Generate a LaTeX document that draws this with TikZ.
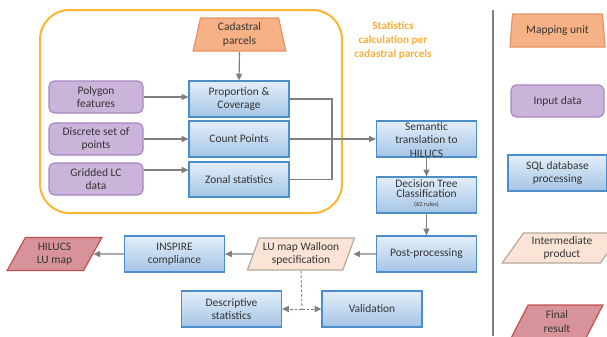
\documentclass[tikz,border=0pt]{standalone}
\usepackage{fontspec}
\setmainfont{Carlito}
\usetikzlibrary{arrows.meta,shapes.geometric,calc}

\definecolor{txt}{HTML}{353535}
\definecolor{blueb}{HTML}{4C8DCA}
\definecolor{bluetop}{HTML}{E3EEF9}
\definecolor{bluebot}{HTML}{A5C5E6}
\definecolor{purpf}{HTML}{CBB4DA}
\definecolor{purpd}{HTML}{A886C2}
\definecolor{cadf}{HTML}{F7B186}
\definecolor{cadd}{HTML}{E3936A}
\definecolor{peachf}{HTML}{FBE4D5}
\definecolor{peachd}{HTML}{B5A99D}
\definecolor{redf}{HTML}{D8939A}
\definecolor{redd}{HTML}{C0504D}
\definecolor{arrg}{HTML}{7F7F7F}
\definecolor{frameo}{HTML}{FDB52F}
\definecolor{labelo}{HTML}{F9AE3A}

\tikzset{
  base/.style={align=center, text=txt, inner sep=0pt, line width=0.9pt},
  bluebox/.style={base, rectangle, draw=blueb, top color=bluetop, bottom color=bluebot,
    minimum width=75pt, minimum height=27pt},
  inputbox/.style={base, rectangle, rounded corners=4pt, draw=purpd, fill=purpf,
    minimum width=70.5pt, minimum height=24pt},
  unitbox/.style={base, trapezium, trapezium stretches=true, trapezium angle=80,
    draw=cadd, fill=cadf},
  interbox/.style={base, trapezium, trapezium stretches=true, draw=peachd, fill=peachf},
  finalbox/.style={base, trapezium, trapezium stretches=true, draw=redd, fill=redf},
  arr/.style={draw=arrg, line width=0.9pt, -{Triangle[length=5pt,width=4.5pt]}},
  plain/.style={draw=arrg, line width=0.9pt},
  dasharr/.style={draw=arrg, line width=0.7pt, dash pattern=on 2pt off 1.5pt,
    -{Triangle[length=5pt,width=4.5pt]}},
}

\begin{document}
\begin{tikzpicture}[x=0.75pt, y=-0.75pt, font=\fontsize{8.6}{10}\selectfont]
\useasboundingbox (0,0) rectangle (607,336);

% statistics frame and its caption
\draw[frameo, line width=1.5pt, rounded corners=22pt] (40,10) rectangle (342,213);
\node[align=center, text=labelo, font=\fontsize{8.4}{10.5}\selectfont\bfseries]
  (statlbl) at (393,40) {Statistics\\calculation per\\cadastral parcels};

% legend separator
\draw[arrg, line width=1.1pt] (493,10) -- (493,336);

% mapping unit
\node[unitbox, minimum width=69.75pt, minimum height=24.75pt] (cad) at (239.5,34.5) {Cadastral\\parcels};

% statistics boxes
\node[bluebox] (prop) at (239,99) {Proportion \&\\Coverage};
\node[bluebox] (count) at (239,139) {Count Points};
\node[bluebox, minimum height=26.25pt] (zonal) at (239,179.5) {Zonal statistics};

% input data
\node[inputbox] (poly) at (96,97) {Polygon\\features};
\node[inputbox] (disc) at (96,139) {Discrete set of\\points};
\node[inputbox] (grid) at (96,179) {Gridded LC\\data};

% processing chain
\node[bluebox] (sem) at (426.5,139) {};
\node[align=center, text=txt, inner sep=0pt, font=\fontsize{8.6}{10.1}\selectfont] (semtxt) at (426.5,140) {Semantic\\translation to\\HILUCS};
\node[bluebox] (dec) at (426.5,195) {};
\node[align=center, text=txt, inner sep=0pt, font=\fontsize{8.6}{7.6}\selectfont] (dectxt) at (426.5,193.5)
  {Decision Tree\\Classification\\[-1pt]{\fontsize{4.8}{5}\selectfont (62 rules)}};
\node[bluebox] (post) at (426.5,254) {Post-processing};
\node[interbox, trapezium left angle=65, trapezium right angle=115,
  minimum width=81pt, minimum height=24pt] (lu) at (301,254) {LU map Walloon\\specification};
\node[bluebox] (insp) at (174.5,254) {INSPIRE\\compliance};
\node[finalbox, trapezium left angle=64, trapezium right angle=116,
  minimum width=71.25pt, minimum height=24.75pt] (hil) at (54.5,254) {HILUCS\\LU map};
\node[bluebox] (desc) at (231.5,309) {Descriptive\\statistics};
\node[bluebox] (val) at (372,309) {Validation};

% legend
\node[unitbox, minimum width=71.25pt, minimum height=24.75pt] (lmap) at (557.5,30.5) {Mapping unit};
\node[inputbox, minimum width=69.75pt] (linp) at (557.5,101) {Input data};
\node[bluebox, minimum width=74.25pt] (lsql) at (557.5,173) {SQL database\\processing};
\node[interbox, trapezium left angle=54, trapezium right angle=126,
  minimum width=90pt, minimum height=22.5pt] (lint) at (562,248) {Intermediate\\product};
\node[finalbox, trapezium left angle=70, trapezium right angle=110,
  minimum width=69pt, minimum height=24.75pt] (lfin) at (557,321.5) {Final\\result};

% connectors
\draw[arr] (cad.south) -- (prop.north);
\draw[arr] (poly.east) -- (poly.east -| prop.west);
\draw[arr] (disc.east) -- (disc.east -| count.west);
\draw[arr] ([yshift=6.75pt]grid.east) -- ([yshift=6.75pt]grid.east -| zonal.west);

\coordinate (jtop) at (332,99);
\coordinate (jbot) at (332,179.5);
\draw[plain] (prop.east) -- (jtop) -- (jbot) -- (zonal.east);
\draw[arr] (count.east) -- (sem.west);
\draw[arr] (sem.south) -- (dec.north);
\draw[arr] (dec.south) -- (post.north);
\draw[arr] (post.west) -- ([xshift=3pt]lu.east);
\draw[arr] (lu.west) -- (insp.east);
\draw[arr] (insp.west) -- (hil.east);

\coordinate (split) at (302,309);
\draw[draw=arrg, line width=0.7pt, dash pattern=on 2pt off 1.5pt] (lu.south) -- (split);
\draw[dasharr] (split) -- (desc.east);
\draw[dasharr] (split) -- (val.west);
\end{tikzpicture}
\end{document}
